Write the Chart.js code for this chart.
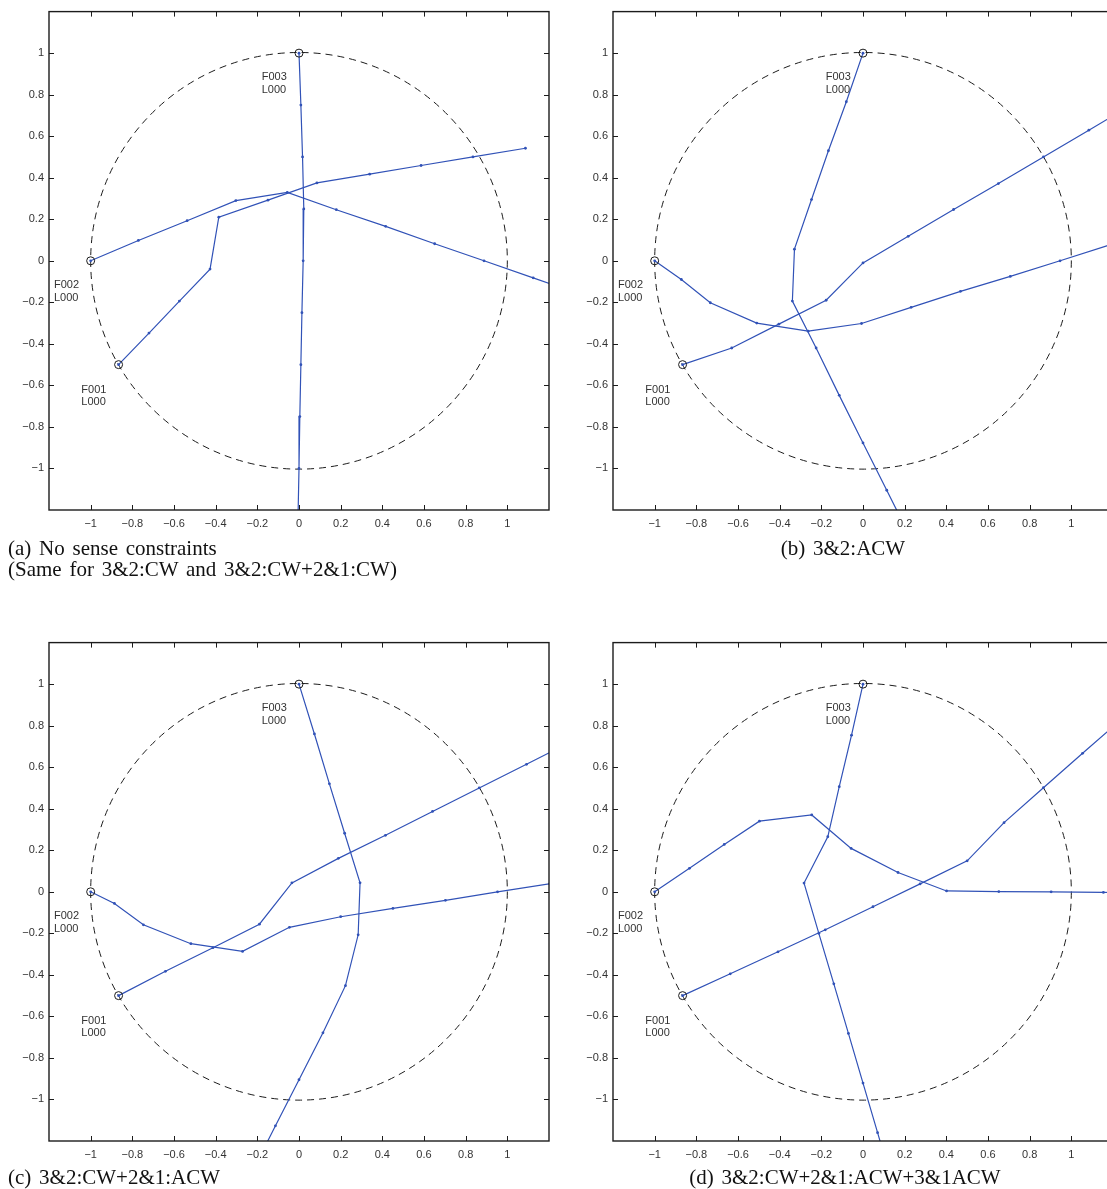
<!DOCTYPE html>
<html>
<head>
<meta charset="utf-8">
<script src="https://cdn.jsdelivr.net/npm/chart.js@4.4.0/dist/chart.umd.min.js"></script>
<style>
  html, body { margin: 0; padding: 0; background: #fff; width: 1107px; height: 1189px; overflow: hidden; }
  canvas { position: absolute; }
  .cap { position: absolute; font-family: "Liberation Serif", "Times New Roman", serif; font-size: 21px;
         line-height: 21px; color: #111; white-space: nowrap; word-spacing: 2.5px; }
</style>
</head>
<body>
<canvas id="chartA" width="560" height="540" style="left:0;top:0"></canvas>
<canvas id="chartB" width="560" height="540" style="left:564px;top:0"></canvas>
<canvas id="chartC" width="560" height="540" style="left:0;top:631px"></canvas>
<canvas id="chartD" width="560" height="540" style="left:564px;top:631px"></canvas>

<div class="cap" style="left:8px;top:538px">(a) No sense constraints<br>(Same for 3&amp;2:CW and 3&amp;2:CW+2&amp;1:CW)</div>
<div class="cap" style="left:643px;top:538px;width:400px;text-align:center">(b) 3&amp;2:ACW</div>
<div class="cap" style="left:8px;top:1167px">(c) 3&amp;2:CW+2&amp;1:ACW</div>
<div class="cap" style="left:645px;top:1167px;width:400px;text-align:center">(d) 3&amp;2:CW+2&amp;1:ACW+3&amp;1ACW</div>

<script>
const tickValues = [-1, -0.8, -0.6, -0.4, -0.2, 0, 0.2, 0.4, 0.6, 0.8, 1];
const tickLabels = ['−1', '−0.8', '−0.6', '−0.4', '−0.2', '0', '0.2', '0.4', '0.6', '0.8', '1'];

// start points of the three feeders (open circles)
const startX = [-0.866, -1, 0];
const startY = [-0.5, 0, 1];
const circleRadius = 1;

// text labels next to the start points
const labelLine1 = ['F001', 'F002', 'F003'];
const labelLine2 = ['L000', 'L000', 'L000'];
const labelX = [-1.045, -1.176, -0.179];
const labelY = [-0.62, -0.118, 0.883];

// (a) no sense constraints
const aF001 = [[-0.866, -0.5], [-0.72, -0.348], [-0.574, -0.194], [-0.427, -0.04], [-0.385, 0.21], [-0.149, 0.292],
  [0.086, 0.375], [0.339, 0.417], [0.586, 0.459], [0.835, 0.5], [1.087, 0.542]];
const aF002 = [[-1, 0], [-0.771, 0.098], [-0.537, 0.193], [-0.303, 0.29], [-0.056, 0.329], [0.179, 0.246],
  [0.416, 0.166], [0.651, 0.082], [0.888, 0], [1.124, -0.082], [1.36, -0.164]];
const aF003 = [[0, 1], [0.009, 0.75], [0.017, 0.5], [0.023, 0.25], [0.02, 0], [0.014, -0.25], [0.009, -0.5],
  [0.004, -0.75], [0, -1], [-0.005, -1.25]];

// (b) 3&2:ACW
const bF001 = [[-0.866, -0.5], [-0.63, -0.42], [-0.404, -0.305], [-0.177, -0.19], [0, -0.01], [0.217, 0.118],
  [0.435, 0.247], [0.65, 0.372], [0.866, 0.5], [1.084, 0.629], [1.3, 0.757]];
const bF002 = [[-1, 0], [-0.872, -0.09], [-0.733, -0.202], [-0.51, -0.3], [-0.263, -0.339], [-0.007, -0.302],
  [0.231, -0.224], [0.468, -0.147], [0.707, -0.075], [0.946, 0], [1.185, 0.077], [1.42, 0.15]];
const bF003 = [[0, 1], [-0.08, 0.766], [-0.166, 0.53], [-0.247, 0.295], [-0.329, 0.056], [-0.339, -0.194],
  [-0.225, -0.42], [-0.114, -0.648], [0, -0.877], [0.114, -1.105], [0.228, -1.333]];

// (c) 3&2:CW+2&1:ACW
const cF001 = [[-0.866, -0.5], [-0.641, -0.383], [-0.413, -0.269], [-0.19, -0.156], [-0.034, 0.043], [0.189, 0.161],
  [0.415, 0.272], [0.641, 0.387], [0.865, 0.5], [1.092, 0.614], [1.32, 0.73]];
const cF002 = [[-1, 0], [-0.886, -0.056], [-0.747, -0.159], [-0.519, -0.25], [-0.271, -0.287], [-0.046, -0.171],
  [0.2, -0.12], [0.451, -0.08], [0.703, -0.041], [0.953, 0], [1.203, 0.039], [1.45, 0.078]];
const cF003 = [[0, 1], [0.074, 0.76], [0.146, 0.52], [0.219, 0.282], [0.293, 0.043], [0.284, -0.207],
  [0.223, -0.452], [0.115, -0.679], [0, -0.905], [-0.113, -1.127], [-0.226, -1.35]];

// (d) 3&2:CW+2&1:ACW+3&1ACW
const dF001 = [[-0.866, -0.5], [-0.637, -0.395], [-0.408, -0.289], [-0.181, -0.183], [0.048, -0.072], [0.274, 0.038],
  [0.5, 0.149], [0.677, 0.333], [0.866, 0.501], [1.054, 0.667], [1.24, 0.83]];
const dF002 = [[-1, 0], [-0.833, 0.113], [-0.666, 0.228], [-0.497, 0.34], [-0.246, 0.37], [-0.057, 0.209],
  [0.168, 0.093], [0.401, 0.004], [0.652, 0.001], [0.903, 0], [1.154, -0.003], [1.4, -0.005]];
const dF003 = [[0, 1], [-0.055, 0.754], [-0.114, 0.506], [-0.169, 0.265], [-0.283, 0.042], [-0.212, -0.2],
  [-0.14, -0.443], [-0.07, -0.682], [0, -0.921], [0.07, -1.16], [0.14, -1.4]];

const lineBlue = '#3152b7';
const ink = '#1c1c1c';

const framePlugin = {
  id: 'frame',
  beforeDatasetsDraw(chart) {
    const { ctx, chartArea: a, scales: { x, y } } = chart;
    ctx.save();
    ctx.beginPath();
    ctx.rect(a.left, a.top, a.width, a.height);
    ctx.clip();
    const cx = x.getPixelForValue(0), cy = y.getPixelForValue(0);
    const r = x.getPixelForValue(circleRadius) - cx;
    ctx.setLineDash([7, 5]);
    ctx.strokeStyle = ink;
    ctx.lineWidth = 1;
    ctx.beginPath();
    ctx.arc(cx, cy, r, 0, Math.PI * 2);
    ctx.stroke();
    ctx.restore();
  },
  afterDraw(chart) {
    const { ctx, chartArea: a, scales: { x, y } } = chart;
    ctx.save();
    ctx.strokeStyle = ink;
    ctx.lineWidth = 1.4;
    ctx.strokeRect(a.left, a.top, a.width, a.height);
    ctx.lineWidth = 1;
    ctx.beginPath();
    tickValues.forEach(v => {
      const px = Math.round(x.getPixelForValue(v)) + 0.5;
      ctx.moveTo(px, a.bottom); ctx.lineTo(px, a.bottom - 5);
      ctx.moveTo(px, a.top); ctx.lineTo(px, a.top + 5);
      const py = Math.round(y.getPixelForValue(v)) + 0.5;
      ctx.moveTo(a.left, py); ctx.lineTo(a.left + 5, py);
      ctx.moveTo(a.right, py); ctx.lineTo(a.right - 5, py);
    });
    ctx.stroke();

    ctx.fillStyle = '#333';
    ctx.font = '11px "Liberation Sans", Arial, sans-serif';
    ctx.textBaseline = 'middle';
    ctx.textAlign = 'left';
    labelLine1.forEach((t, i) => {
      const px = x.getPixelForValue(labelX[i]);
      const py = y.getPixelForValue(labelY[i]);
      ctx.fillText(t, px, py);
      ctx.fillText(labelLine2[i], px, py + 12.7);
    });
    ctx.restore();
  }
};

function toPoints(arr) {
  return arr.map(p => ({ x: p[0], y: p[1] }));
}

function feederSet(arr) {
  return {
    data: toPoints(arr),
    showLine: true,
    borderColor: lineBlue,
    borderWidth: 1.2,
    pointRadius: 1.4,
    pointBackgroundColor: lineBlue,
    pointBorderWidth: 0
  };
}

function axis(pos) {
  return {
    type: 'linear',
    position: pos,
    min: -1.2,
    max: 1.2,
    grid: { display: false, drawTicks: false },
    border: { display: false },
    afterBuildTicks: s => { s.ticks = tickValues.map(v => ({ value: v })); },
    afterFit: s => {
      if (pos === 'left') s.width = 49; else s.height = 30;
    },
    ticks: {
      autoSkip: false,
      maxRotation: 0,
      padding: pos === 'left' ? 5 : 7,
      color: '#333',
      font: { family: '"Liberation Sans", Arial, sans-serif', size: 11 },
      callback: (v, i) => tickLabels[i]
    }
  };
}

function drawPanel(id, f001, f002, f003) {
  new Chart(document.getElementById(id), {
    type: 'scatter',
    data: {
      datasets: [
        {
          data: startX.map((v, i) => ({ x: v, y: startY[i] })),
          showLine: false,
          pointRadius: 4,
          pointBorderWidth: 1,
          pointBorderColor: ink,
          pointBackgroundColor: 'rgba(0,0,0,0)'
        },
        feederSet(f001),
        feederSet(f002),
        feederSet(f003)
      ]
    },
    options: {
      responsive: false,
      animation: false,
      devicePixelRatio: 1,
      layout: { padding: { left: 0, top: 10, right: 11, bottom: 0 } },
      plugins: { legend: { display: false }, tooltip: { enabled: false } },
      scales: { x: axis('bottom'), y: axis('left') }
    },
    plugins: [framePlugin]
  });
}

drawPanel('chartA', aF001, aF002, aF003);
drawPanel('chartB', bF001, bF002, bF003);
drawPanel('chartC', cF001, cF002, cF003);
drawPanel('chartD', dF001, dF002, dF003);
</script>
</body>
</html>
